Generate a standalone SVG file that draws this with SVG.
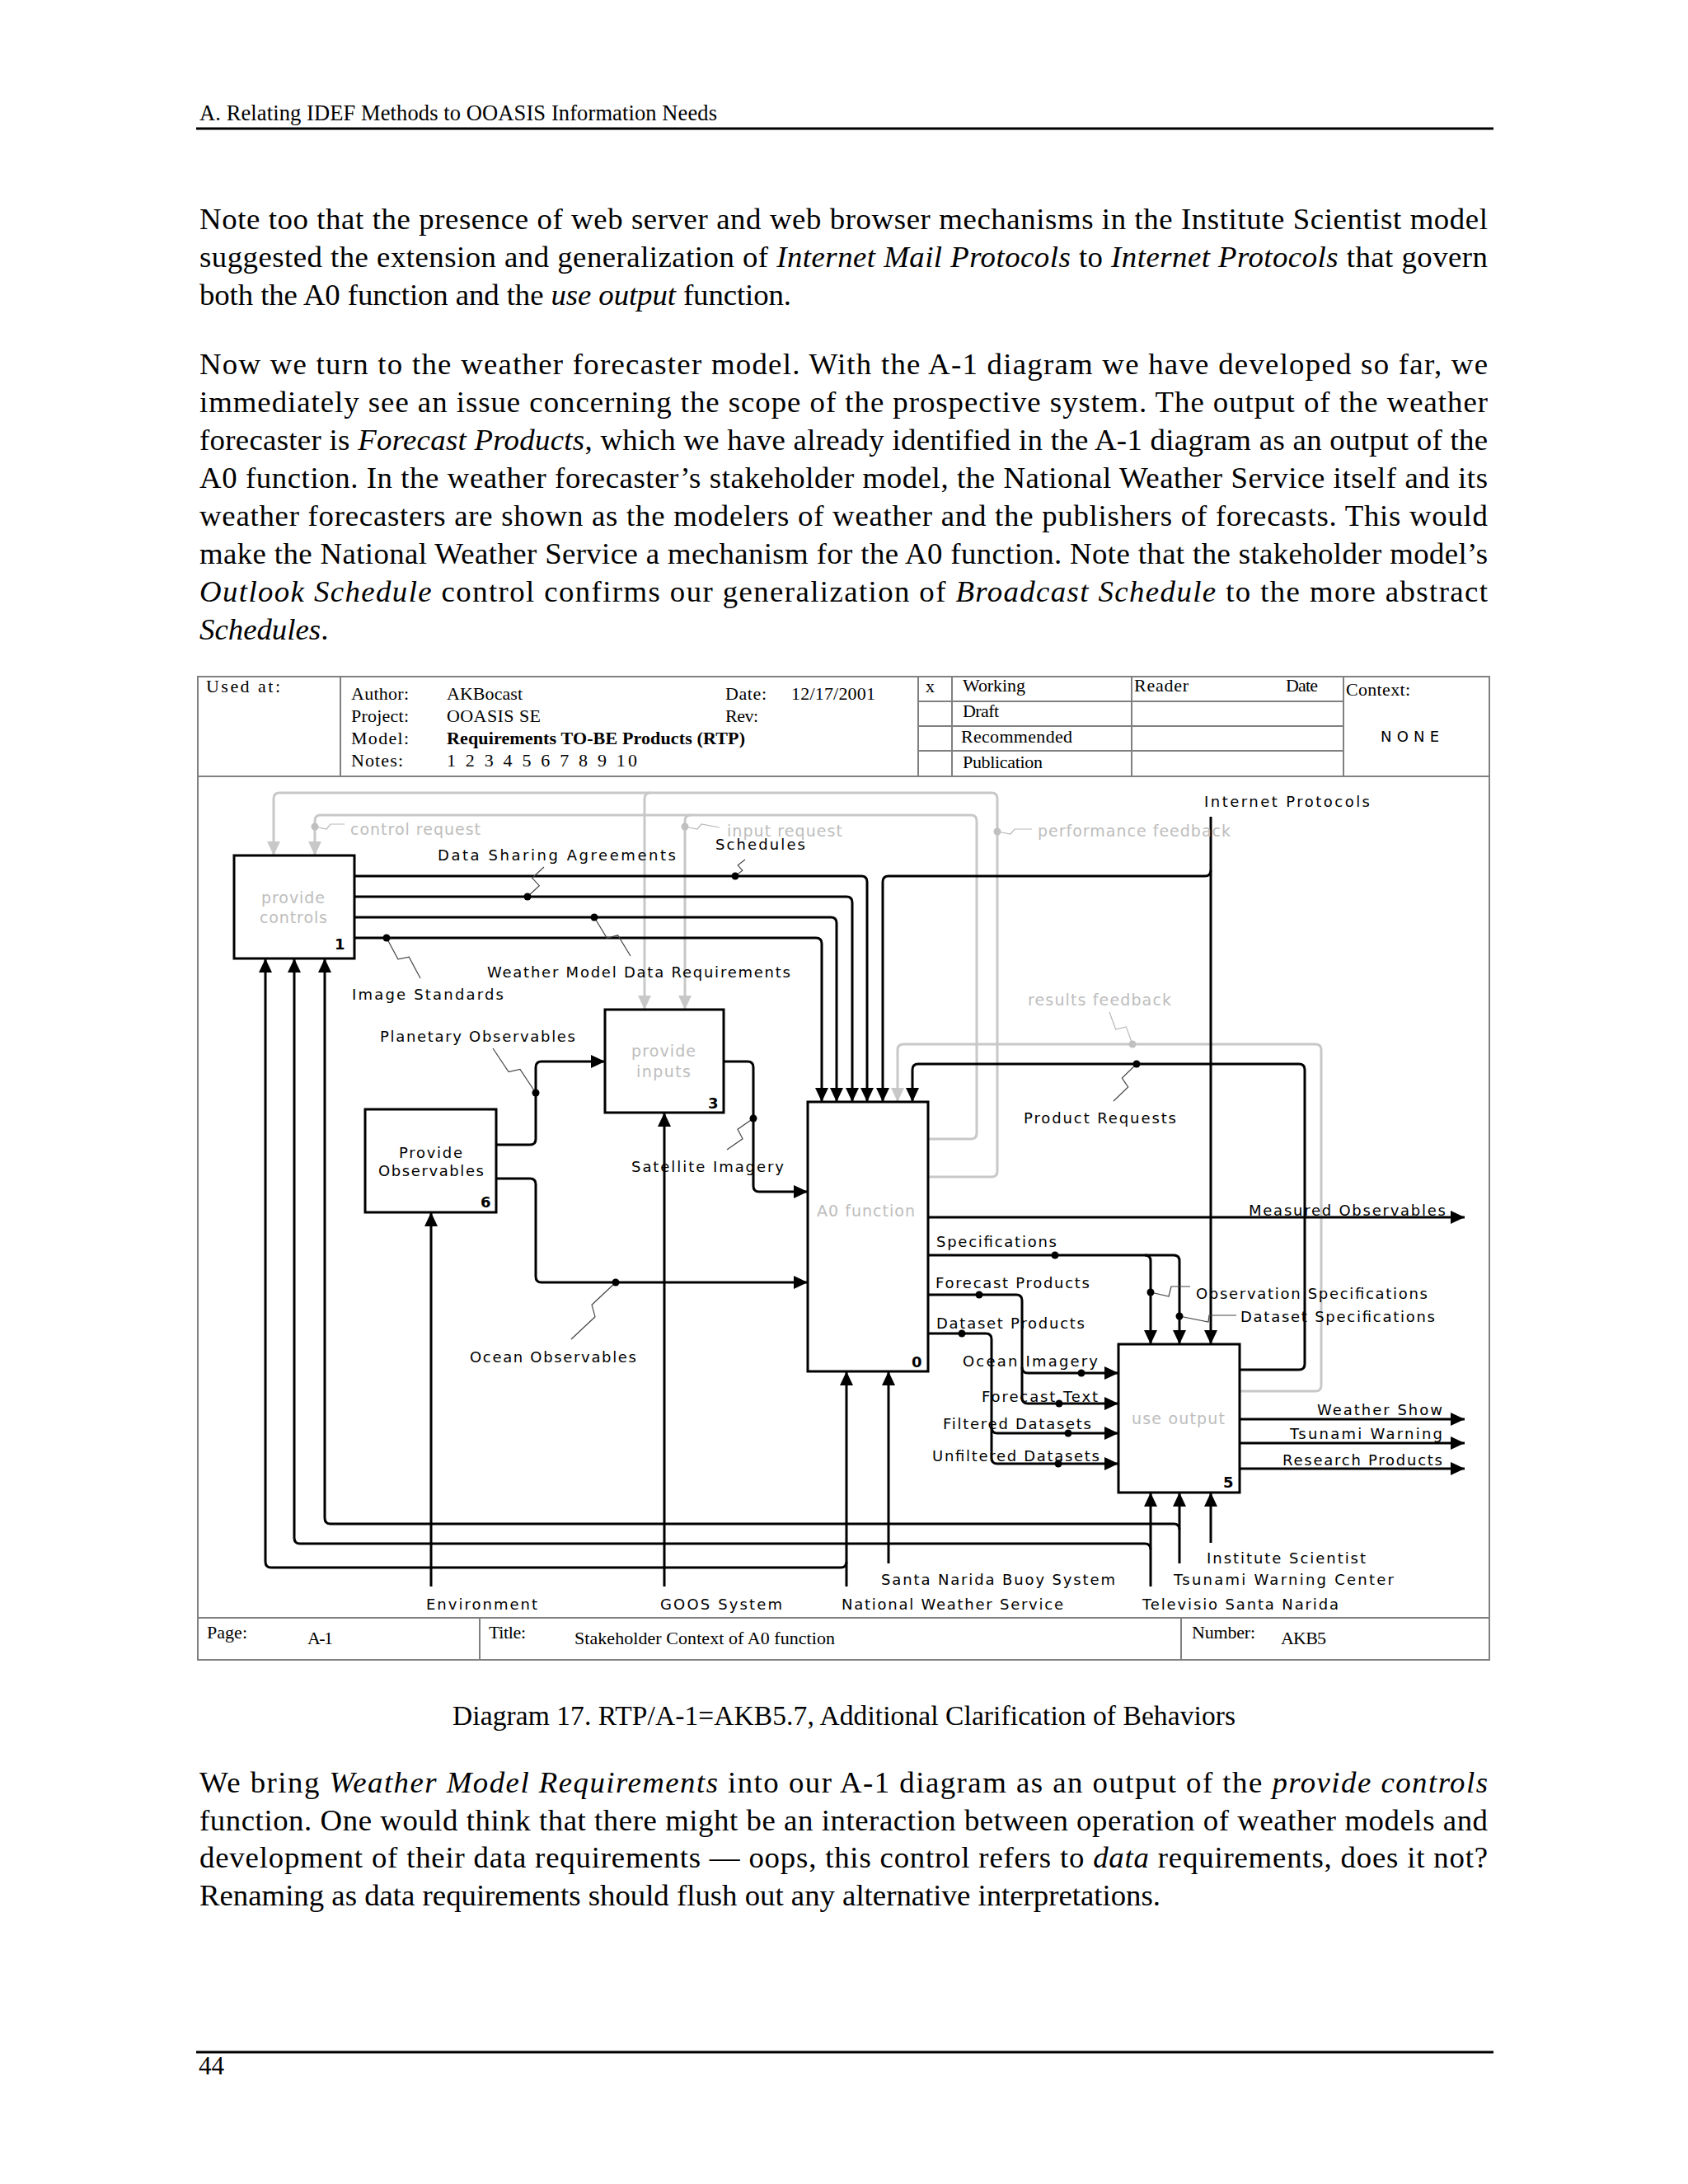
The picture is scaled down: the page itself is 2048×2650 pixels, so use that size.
<svg xmlns="http://www.w3.org/2000/svg" width="2048" height="2650" viewBox="0 0 2048 2650">
<style>
.tx{font-family:"Liberation Serif","Times New Roman",serif;font-size:36.8px;fill:#000}
.hd{font-family:"Liberation Serif","Times New Roman",serif;font-size:22px;fill:#000}
.lb{font-family:"DejaVu Sans",Verdana,sans-serif;font-size:18px;fill:#000}
.gl{fill:#bdbdbd;font-size:19px}
.num{font-family:"DejaVu Sans",Verdana,sans-serif;font-size:18px;font-weight:bold;fill:#000}
.c{fill:none;stroke:#000;stroke-width:3}
.ca{fill:none;stroke:#000;stroke-width:3;marker-end:url(#ah)}
.g{fill:none;stroke:#c8c8c8;stroke-width:3}
.ga{fill:none;stroke:#c8c8c8;stroke-width:3;marker-end:url(#ahg)}
.sq{fill:none;stroke:#444;stroke-width:1.2}
.sqg{fill:none;stroke:#b8b8b8;stroke-width:1.2}
.box{fill:#fff;stroke:#000;stroke-width:3}
.fr{fill:none;stroke:#808080;stroke-width:2}
.dot{fill:#000}
.gdot{fill:#c0c0c0}
</style>
<defs>
<marker id="ah" viewBox="0 0 17 16" refX="17" refY="8" markerWidth="17" markerHeight="16" markerUnits="userSpaceOnUse" orient="auto"><path d="M0,0 L17,8 L0,16 z" fill="#000"/></marker>
<marker id="ahg" viewBox="0 0 17 16" refX="17" refY="8" markerWidth="17" markerHeight="16" markerUnits="userSpaceOnUse" orient="auto"><path d="M0,0 L17,8 L0,16 z" fill="#c8c8c8"/></marker>
</defs>
<rect width="2048" height="2650" fill="#fff"/>

<!-- page header -->
<g id="page-header">
<text class="tx" x="242" y="146" style="font-size:26.5px" textLength="628" lengthAdjust="spacing">A. Relating IDEF Methods to OOASIS Information Needs</text>
<line x1="238" y1="156" x2="1812" y2="156" stroke="#000" stroke-width="3"/>
</g>

<!-- paragraphs above -->
<g id="para-top">
<text class="tx" x="242" y="278" textLength="1563" lengthAdjust="spacing">Note too that the presence of web server and web browser mechanisms in the Institute Scientist model</text>
<text class="tx" x="242" y="324" textLength="1563" lengthAdjust="spacing">suggested the extension and generalization of <tspan font-style="italic">Internet Mail Protocols</tspan> to <tspan font-style="italic">Internet Protocols</tspan> that govern</text>
<text class="tx" x="242" y="370" textLength="718" lengthAdjust="spacing">both the A0 function and the <tspan font-style="italic">use output</tspan> function.</text>
<text class="tx" x="242" y="454" textLength="1563" lengthAdjust="spacing">Now we turn to the weather forecaster model. With the A-1 diagram we have developed so far, we</text>
<text class="tx" x="242" y="500" textLength="1563" lengthAdjust="spacing">immediately see an issue concerning the scope of the prospective system. The output of the weather</text>
<text class="tx" x="242" y="546" textLength="1563" lengthAdjust="spacing">forecaster is <tspan font-style="italic">Forecast Products</tspan>, which we have already identified in the A-1 diagram as an output of the</text>
<text class="tx" x="242" y="592" textLength="1563" lengthAdjust="spacing">A0 function. In the weather forecaster’s stakeholder model, the National Weather Service itself and its</text>
<text class="tx" x="242" y="638" textLength="1563" lengthAdjust="spacing">weather forecasters are shown as the modelers of weather and the publishers of forecasts.  This would</text>
<text class="tx" x="242" y="684" textLength="1563" lengthAdjust="spacing">make the National Weather Service a mechanism for the A0 function. Note that the stakeholder model’s</text>
<text class="tx" x="242" y="730" textLength="1563" lengthAdjust="spacing"><tspan font-style="italic">Outlook Schedule</tspan> control confirms our generalization of <tspan font-style="italic">Broadcast Schedule</tspan> to the more abstract</text>
<text class="tx" x="242" y="776"><tspan font-style="italic">Schedules</tspan>.</text>
</g>

<!-- diagram frame -->
<g id="frame">
<rect class="fr" x="240" y="821" width="1567" height="1193"/>
<line class="fr" x1="240" y1="942" x2="1807" y2="942"/>
<line class="fr" x1="413" y1="821" x2="413" y2="942"/>
<line class="fr" x1="1114" y1="821" x2="1114" y2="942"/>
<line class="fr" x1="1155" y1="821" x2="1155" y2="942"/>
<line class="fr" x1="1373" y1="821" x2="1373" y2="942"/>
<line class="fr" x1="1630" y1="821" x2="1630" y2="942"/>
<line class="fr" x1="1114" y1="851" x2="1630" y2="851"/>
<line class="fr" x1="1114" y1="881" x2="1630" y2="881"/>
<line class="fr" x1="1114" y1="911" x2="1630" y2="911"/>
<line class="fr" x1="240" y1="1963" x2="1807" y2="1963"/>
<line class="fr" x1="582" y1="1963" x2="582" y2="2014"/>
<line class="fr" x1="1433" y1="1963" x2="1433" y2="2014"/>
<text class="hd" x="250" y="840" textLength="90" lengthAdjust="spacing">Used at:</text>
<text class="hd" x="426" y="849" textLength="70" lengthAdjust="spacing">Author:</text>
<text class="hd" x="542" y="849" textLength="92" lengthAdjust="spacing">AKBocast</text>
<text class="hd" x="880" y="849" textLength="50" lengthAdjust="spacing">Date:</text>
<text class="hd" x="960" y="849" textLength="102" lengthAdjust="spacing">12/17/2001</text>
<text class="hd" x="426" y="876" textLength="70" lengthAdjust="spacing">Project:</text>
<text class="hd" x="542" y="876" textLength="114" lengthAdjust="spacing">OOASIS SE</text>
<text class="hd" x="880" y="876" textLength="40" lengthAdjust="spacing">Rev:</text>
<text class="hd" x="426" y="903" textLength="70" lengthAdjust="spacing">Model:</text>
<text class="hd" x="542" y="903" font-weight="bold" textLength="362" lengthAdjust="spacing">Requirements TO-BE Products (RTP)</text>
<text class="hd" x="426" y="930" textLength="63" lengthAdjust="spacing">Notes:</text>
<text class="hd" x="542" y="930" textLength="231" lengthAdjust="spacing">1 2 3 4 5 6 7 8 9 10</text>
<text class="hd" x="1123" y="840">x</text>
<text class="hd" x="1168" y="839" textLength="76" lengthAdjust="spacing">Working</text>
<text class="hd" x="1168" y="870" textLength="44" lengthAdjust="spacing">Draft</text>
<text class="hd" x="1166" y="901" textLength="135" lengthAdjust="spacing">Recommended</text>
<text class="hd" x="1168" y="932" textLength="97" lengthAdjust="spacing">Publication</text>
<text class="hd" x="1376" y="839" textLength="66" lengthAdjust="spacing">Reader</text>
<text class="hd" x="1560" y="839" textLength="39" lengthAdjust="spacing">Date</text>
<text class="hd" x="1633" y="844" textLength="78" lengthAdjust="spacing">Context:</text>
<text class="lb" x="1675" y="900" textLength="71" lengthAdjust="spacing">NONE</text>
<text class="hd" x="251" y="1988" textLength="49" lengthAdjust="spacing">Page:</text>
<text class="hd" x="373" y="1995" textLength="31" lengthAdjust="spacing">A-1</text>
<text class="hd" x="593" y="1988" textLength="45" lengthAdjust="spacing">Title:</text>
<text class="hd" x="697" y="1995" textLength="316" lengthAdjust="spacing">Stakeholder Context of A0 function</text>
<text class="hd" x="1446" y="1988" textLength="77" lengthAdjust="spacing">Number:</text>
<text class="hd" x="1554" y="1995" textLength="55" lengthAdjust="spacing">AKB5</text>
</g>

<!-- connectors -->
<g id="connectors">
<!-- gray feedback loops -->
<path class="ga" d="M1126,1428 H1203 Q1210,1428 1210,1421 V969 Q1210,962 1203,962 H339 Q332,962 332,969 V1038"/>
<path class="ga" d="M789,962 Q782,962 782,969 V1225"/>
<path class="ga" d="M1126,1382 H1178 Q1185,1382 1185,1375 V996 Q1185,989 1178,989 H389 Q382,989 382,996 V1038"/>
<path class="ga" d="M838,989 Q831,989 831,996 V1225"/>
<path class="ga" d="M1504,1688 H1596 Q1603,1688 1603,1681 V1274 Q1603,1267 1596,1267 H1096 Q1089,1267 1089,1274 V1337"/>

<!-- controls -->
<path class="ca" d="M430,1063 H1045 Q1052,1063 1052,1070 V1337"/>
<path class="ca" d="M430,1088 H1027 Q1034,1088 1034,1095 V1337"/>
<path class="ca" d="M430,1113 H1008 Q1015,1113 1015,1120 V1337"/>
<path class="ca" d="M430,1138 H990 Q997,1138 997,1145 V1337"/>
<path class="ca" d="M1469,991 V1631"/>
<path class="ca" d="M1469,1056 Q1469,1063 1462,1063 H1078 Q1071,1063 1071,1070 V1337"/>
<path class="ca" d="M1504,1662 H1576 Q1583,1662 1583,1655 V1298 Q1583,1291 1576,1291 H1114 Q1107,1291 1107,1298 V1337"/>

<!-- A0 outputs -->
<path class="ca" d="M1126,1477 H1777"/>
<path class="ca" d="M1126,1523 H1424 Q1431,1523 1431,1530 V1631"/>
<path class="ca" d="M1389,1523 Q1396,1523 1396,1530 V1631"/>
<path class="ca" d="M1126,1571 H1233 Q1240,1571 1240,1578 V1696 Q1240,1703 1247,1703 H1357"/>
<path class="ca" d="M1240,1659 Q1240,1666 1247,1666 H1357"/>
<path class="ca" d="M1126,1618 H1196 Q1203,1618 1203,1625 V1769 Q1203,1776 1210,1776 H1357"/>
<path class="ca" d="M1203,1732 Q1203,1739 1210,1739 H1357"/>

<!-- use output outputs -->
<path class="ca" d="M1504,1722 H1777"/>
<path class="ca" d="M1504,1751 H1777"/>
<path class="ca" d="M1504,1782 H1777"/>

<!-- inputs flows -->
<path class="ca" d="M602,1389 H643 Q650,1389 650,1382 V1295 Q650,1288 657,1288 H734"/>
<path class="ca" d="M602,1430 H643 Q650,1430 650,1437 V1549 Q650,1556 657,1556 H980"/>
<path class="ca" d="M878,1288 H907 Q914,1288 914,1295 V1439 Q914,1446 921,1446 H980"/>

<!-- mechanisms -->
<path class="ca" d="M523,1925 V1471"/>
<path class="ca" d="M806,1925 V1350"/>
<path class="ca" d="M1078,1897 V1664"/>
<path class="ca" d="M1027,1925 V1664"/>
<path class="ca" d="M1027,1895 Q1027,1902 1020,1902 H329 Q322,1902 322,1895 V1163"/>
<path class="ca" d="M1396,1925 V1811"/>
<path class="ca" d="M1396,1880 Q1396,1873 1389,1873 H364 Q357,1873 357,1866 V1163"/>
<path class="ca" d="M1431,1897 V1811"/>
<path class="ca" d="M1431,1856 Q1431,1849 1424,1849 H401 Q394,1849 394,1842 V1163"/>
<path class="ca" d="M1469,1872 V1811"/>

<!-- squiggles -->
<polyline class="sq" points="892,1063 900.8,1056.1 895.2,1049.9 904,1043"/>
<polyline class="sq" points="640,1088 654.3,1074.7 645.7,1065.3 660,1052"/>
<polyline class="sq" points="721,1113 736.4,1138.3 749.6,1134.8 765,1160"/>
<polyline class="sq" points="469,1138 482.9,1163.9 496.2,1161.2 510,1187"/>
<polyline class="sq" points="650,1326 630.9,1297.5 617.1,1300.5 598,1272"/>
<polyline class="sq" points="914,1357 895,1370.2 901,1381.8 882,1395"/>
<polyline class="sq" points="747,1556 718,1583.3 722,1597.7 693,1625"/>
<polyline class="sq" points="1379,1291 1361.3,1308.1 1368.7,1319 1351,1336"/>
<polyline class="sqg" points="1374,1267 1366.3,1245.9 1353.7,1249 1346,1228"/>
<polyline class="sqg" points="1210,1009 1226,1012 1231,1006 1252,1006"/>
<polyline class="sqg" points="382,1003 396,1006 401,1000 418,1000"/>
<polyline class="sqg" points="831,1003 846,1006 851,1000 873,1004"/>
<polyline class="sq" points="1396,1568 1418,1573 1421,1561 1444,1561"/>
<polyline class="sq" points="1431,1597 1466,1604 1467,1596 1500,1596"/>

<!-- dots -->
<circle class="dot" cx="892" cy="1063" r="4.5"/>
<circle class="dot" cx="640" cy="1088" r="4.5"/>
<circle class="dot" cx="721" cy="1113" r="4.5"/>
<circle class="dot" cx="469" cy="1138" r="4.5"/>
<circle class="dot" cx="1379" cy="1291" r="4.5"/>
<circle class="dot" cx="650" cy="1326" r="4.5"/>
<circle class="dot" cx="914" cy="1357" r="4.5"/>
<circle class="dot" cx="747" cy="1556" r="4.5"/>
<circle class="dot" cx="1280" cy="1523" r="4.5"/>
<circle class="dot" cx="1188" cy="1571" r="4.5"/>
<circle class="dot" cx="1167" cy="1618" r="4.5"/>
<circle class="dot" cx="1396" cy="1568" r="4.5"/>
<circle class="dot" cx="1431" cy="1597" r="4.5"/>
<circle class="dot" cx="1312" cy="1666" r="4.5"/>
<circle class="dot" cx="1285" cy="1703" r="4.5"/>
<circle class="dot" cx="1296" cy="1739" r="4.5"/>
<circle class="dot" cx="1284" cy="1776" r="4.5"/>
<circle class="gdot" cx="382" cy="1003" r="4.5"/>
<circle class="gdot" cx="831" cy="1003" r="4.5"/>
<circle class="gdot" cx="1210" cy="1009" r="4.5"/>
<circle class="gdot" cx="1374" cy="1267" r="4.5"/>

<!-- connector labels -->
<text class="lb gl" x="425" y="1013" textLength="158" lengthAdjust="spacing">control request</text>
<text class="lb gl" x="882" y="1015" textLength="140" lengthAdjust="spacing">input request</text>
<text class="lb gl" x="1259" y="1015" textLength="234" lengthAdjust="spacing">performance feedback</text>
<text class="lb gl" x="1247" y="1220" textLength="174" lengthAdjust="spacing">results feedback</text>
<text class="lb" x="1461" y="979" textLength="201" lengthAdjust="spacing">Internet Protocols</text>
<text class="lb" x="531" y="1044" textLength="289" lengthAdjust="spacing">Data Sharing Agreements</text>
<text class="lb" x="868" y="1031" textLength="109" lengthAdjust="spacing">Schedules</text>
<text class="lb" x="591" y="1186" textLength="368" lengthAdjust="spacing">Weather Model Data Requirements</text>
<text class="lb" x="427" y="1213" textLength="184" lengthAdjust="spacing">Image Standards</text>
<text class="lb" x="461" y="1264" textLength="237" lengthAdjust="spacing">Planetary Observables</text>
<text class="lb" x="1242" y="1363" textLength="185" lengthAdjust="spacing">Product Requests</text>
<text class="lb" x="766" y="1422" textLength="185" lengthAdjust="spacing">Satellite Imagery</text>
<text class="lb" x="1515" y="1475" textLength="239" lengthAdjust="spacing">Measured Observables</text>
<text class="lb" x="1136" y="1513" textLength="146" lengthAdjust="spacing">Specifications</text>
<text class="lb" x="1135" y="1563" textLength="187" lengthAdjust="spacing">Forecast Products</text>
<text class="lb" x="1451" y="1576" textLength="281" lengthAdjust="spacing">Observation Specifications</text>
<text class="lb" x="1505" y="1604" textLength="236" lengthAdjust="spacing">Dataset Specifications</text>
<text class="lb" x="1136" y="1612" textLength="180" lengthAdjust="spacing">Dataset Products</text>
<text class="lb" x="570" y="1653" textLength="202" lengthAdjust="spacing">Ocean Observables</text>
<text class="lb" x="1168" y="1658" textLength="164" lengthAdjust="spacing">Ocean Imagery</text>
<text class="lb" x="1191" y="1701" textLength="141" lengthAdjust="spacing">Forecast Text</text>
<text class="lb" x="1144" y="1734" textLength="180" lengthAdjust="spacing">Filtered Datasets</text>
<text class="lb" x="1131" y="1773" textLength="203" lengthAdjust="spacing">Unfiltered Datasets</text>
<text class="lb" x="1598" y="1717" textLength="152" lengthAdjust="spacing">Weather Show</text>
<text class="lb" x="1565" y="1746" textLength="185" lengthAdjust="spacing">Tsunami Warning</text>
<text class="lb" x="1556" y="1778" textLength="194" lengthAdjust="spacing">Research Products</text>
<text class="lb" x="1464" y="1897" textLength="193" lengthAdjust="spacing">Institute Scientist</text>
<text class="lb" x="1424" y="1923" textLength="267" lengthAdjust="spacing">Tsunami Warning Center</text>
<text class="lb" x="1069" y="1923" textLength="284" lengthAdjust="spacing">Santa Narida Buoy System</text>
<text class="lb" x="1386" y="1953" textLength="238" lengthAdjust="spacing">Televisio Santa Narida</text>
<text class="lb" x="1021" y="1953" textLength="269" lengthAdjust="spacing">National Weather Service</text>
<text class="lb" x="517" y="1953" textLength="135" lengthAdjust="spacing">Environment</text>
<text class="lb" x="801" y="1953" textLength="148" lengthAdjust="spacing">GOOS System</text>
</g>

<!-- nodes -->
<g id="node-provide-controls">
<rect class="box" x="284" y="1038" width="146" height="125"/>
<text class="lb gl" x="317" y="1096" textLength="77" lengthAdjust="spacing">provide</text>
<text class="lb gl" x="315" y="1120" textLength="82" lengthAdjust="spacing">controls</text>
<text class="num" x="406" y="1152">1</text>
</g>
<g id="node-provide-inputs">
<rect class="box" x="734" y="1225" width="144" height="125"/>
<text class="lb gl" x="766" y="1282" textLength="78" lengthAdjust="spacing">provide</text>
<text class="lb gl" x="772" y="1307" textLength="66" lengthAdjust="spacing">inputs</text>
<text class="num" x="859" y="1345">3</text>
</g>
<g id="node-provide-observables">
<rect class="box" x="443" y="1346" width="159" height="125"/>
<text class="lb" x="484" y="1405" textLength="77" lengthAdjust="spacing">Provide</text>
<text class="lb" x="459" y="1427" textLength="128" lengthAdjust="spacing">Observables</text>
<text class="num" x="583" y="1465">6</text>
</g>
<g id="node-a0-function">
<rect class="box" x="980" y="1337" width="146" height="327"/>
<text class="lb gl" x="991" y="1476" textLength="119" lengthAdjust="spacing">A0 function</text>
<text class="num" x="1106" y="1659">0</text>
</g>
<g id="node-use-output">
<rect class="box" x="1357" y="1631" width="147" height="180"/>
<text class="lb gl" x="1373" y="1728" textLength="113" lengthAdjust="spacing">use output</text>
<text class="num" x="1484" y="1805">5</text>
</g>

<!-- caption and following text -->
<g id="para-bottom">
<text class="tx" x="549" y="2093" style="font-size:33.5px" textLength="950" lengthAdjust="spacing">Diagram 17. RTP/A-1=AKB5.7, Additional Clarification of Behaviors</text>
<text class="tx" x="242" y="2175" textLength="1563" lengthAdjust="spacing">We bring <tspan font-style="italic">Weather Model Requirements</tspan> into our A-1 diagram as an output of the <tspan font-style="italic">provide controls</tspan></text>
<text class="tx" x="242" y="2221" textLength="1563" lengthAdjust="spacing">function. One would think that there might be an interaction between operation of weather models and</text>
<text class="tx" x="242" y="2266" textLength="1563" lengthAdjust="spacing">development of their data requirements — oops, this control refers to <tspan font-style="italic">data</tspan> requirements, does it not?</text>
<text class="tx" x="242" y="2312" textLength="1166" lengthAdjust="spacing">Renaming as data requirements should flush out any alternative interpretations.</text>
</g>

<!-- page footer -->
<g id="page-footer">
<line x1="238" y1="2490" x2="1812" y2="2490" stroke="#000" stroke-width="3"/>
<text class="tx" x="241" y="2517" style="font-size:31px">44</text>
</g>
</svg>
